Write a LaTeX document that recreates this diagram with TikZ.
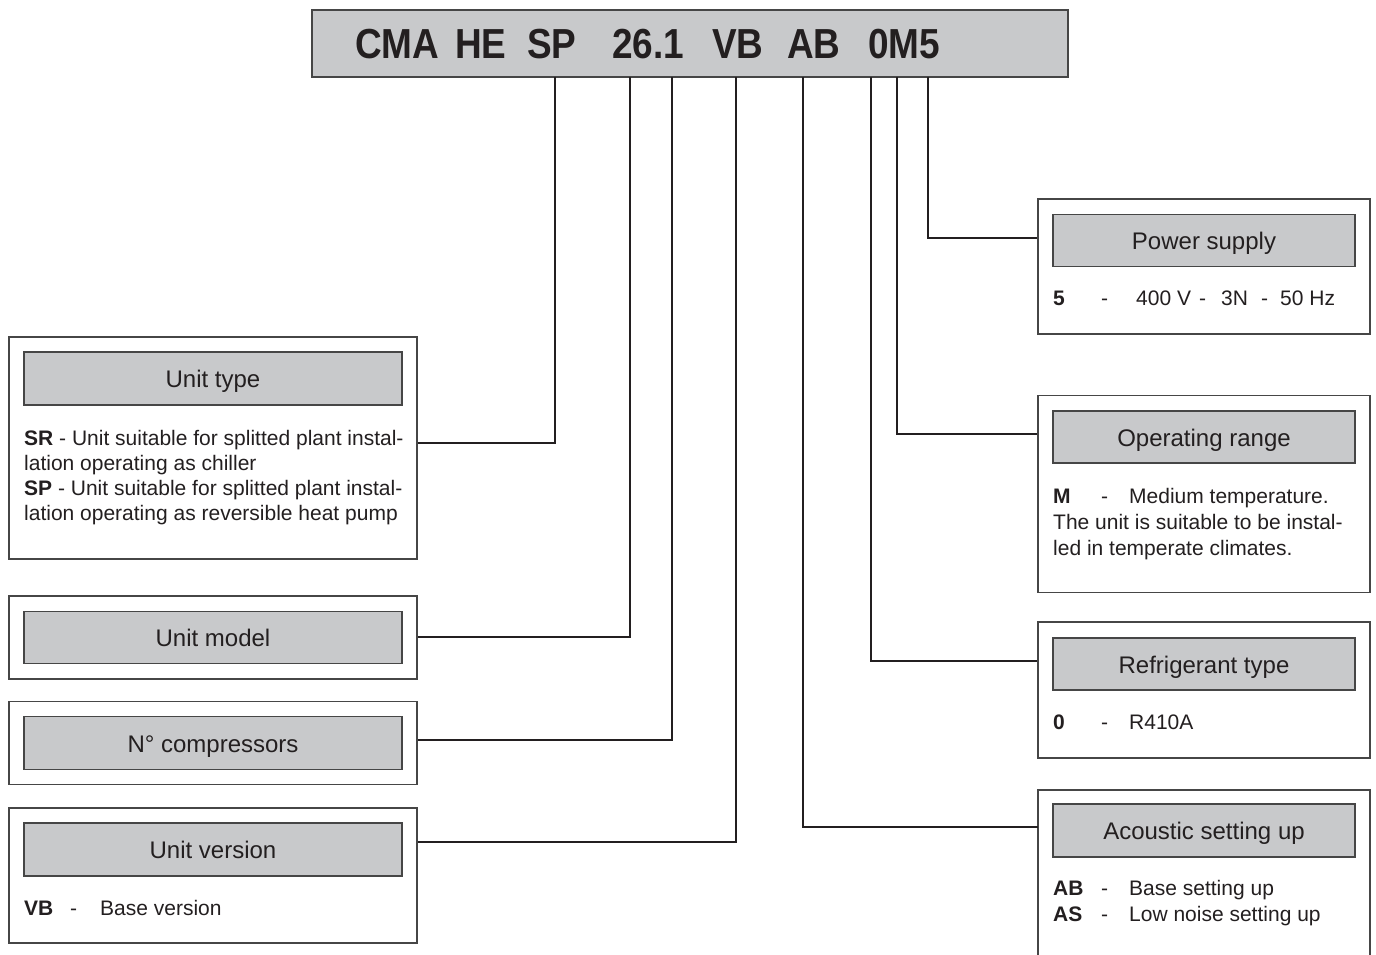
\documentclass[tikz,border=0pt]{standalone}
\usepackage{fontspec}
\setmainfont{Liberation Sans}
\definecolor{hdrgray}{RGB}{200,201,203}
\definecolor{edge}{RGB}{70,70,70}
\definecolor{ink}{RGB}{35,31,32}
\tikzset{
  outerbox/.style={draw=edge, line width=1.1pt, inner sep=0pt, minimum width=#1},
  hdrbox/.style={draw=edge, fill=hdrgray, line width=1.1pt, inner sep=0pt, text=ink,
    text height=18pt, text depth=0pt, font=\fontsize{24}{24}\selectfont},
  body/.style={anchor=base west, inner sep=0pt, text=ink, font=\fontsize{21}{26}\selectfont},
  ttl/.style={anchor=base west, inner sep=0pt, text=ink, font=\fontsize{42}{42}\selectfont\bfseries, xscale=0.88},
  conn/.style={draw=ink, line width=1.1pt}
}
\begin{document}
\begin{tikzpicture}[x=1pt,y=-1pt]
\useasboundingbox[fill=white] (0,0) rectangle (1376,955);
% title bar
\node[draw=edge, fill=hdrgray, line width=1.1pt, minimum width=756pt, minimum height=67pt, inner sep=0pt] (title) at (690,43.5) {};
\node[ttl] (tCMA) at (355,59) {CMA};
\node[ttl] (tHE) at (455,59) {HE};
\node[ttl] (tSPx) at (527,59) {SP};
\node[ttl] (t26) at (612,59) {26.1};
\node[ttl] (tVB) at (712,59) {VB};
\node[ttl] (tAB) at (787,59) {AB};
\node[ttl] (t0M5) at (868,59) {0M5};
% tap points on the title bar
\coordinate (pSP) at (555,77);
\coordinate (p26) at (630,77);
\coordinate (p1) at (672,77);
\coordinate (pVB) at (736,77);
\coordinate (pAB) at (803,77);
\coordinate (p0) at (871,77);
\coordinate (pM) at (897,77);
\coordinate (p5) at (928,77);

% ---------- left boxes ----------
\node[outerbox=408pt, minimum height=222pt] (typebox) at (213,448) {};
\node[hdrbox, minimum width=378pt, minimum height=53pt] (typehdr) at (213,378.5) {Unit type};
\node[body] (typel1) at (24,445) {\textbf{SR} - Unit suitable for splitted plant instal-};
\node[body] (typel2) at (24,470) {lation operating as chiller};
\node[body] (typel3) at (24,495) {\textbf{SP} - Unit suitable for splitted plant instal-};
\node[body] (typel4) at (24,520) {lation operating as reversible heat pump};

\node[outerbox=408pt, minimum height=83pt] (modelbox) at (213,637.5) {};
\node[hdrbox, minimum width=378pt, minimum height=52pt] (modelhdr) at (213,637.5) {Unit model};

\node[outerbox=408pt, minimum height=83pt] (compbox) at (213,743) {};
\node[hdrbox, minimum width=378pt, minimum height=53pt] (comphdr) at (213,743) {N° compressors};

\node[outerbox=408pt, minimum height=135pt] (verbox) at (213,875.5) {};
\node[hdrbox, minimum width=378pt, minimum height=53pt] (verhdr) at (213,849.5) {Unit version};
\node[body] (vercode) at (24,915) {\textbf{VB}};
\node[body] (verdash) at (70,915) {-};
\node[body] (vertxt) at (100,915) {Base version};

% ---------- right boxes ----------
\node[outerbox=332pt, minimum height=135pt] (powbox) at (1204,266.5) {};
\node[hdrbox, minimum width=302pt, minimum height=52pt] (powhdr) at (1204,240.5) {Power supply};
\node[body] (powcode) at (1053,305) {\textbf{5}};
\node[body] (powdash) at (1101,305) {-};
\node[body] (powa) at (1136,305) {400 V};
\node[body] (powb) at (1199,305) {-};
\node[body] (powc) at (1221,305) {3N};
\node[body] (powd) at (1261,305) {-};
\node[body] (powe) at (1280,305) {50 Hz};

\node[outerbox=332pt, minimum height=197pt] (opbox) at (1204,494) {};
\node[hdrbox, minimum width=302pt, minimum height=52pt] (ophdr) at (1204,437) {Operating range};
\node[body] (opcode) at (1053,503) {\textbf{M}};
\node[body] (opdash) at (1101,503) {-};
\node[body] (optxt1) at (1129,503) {Medium temperature.};
\node[body] (optxt2) at (1053,529) {The unit is suitable to be instal-};
\node[body] (optxt3) at (1053,555) {led in temperate climates.};

\node[outerbox=332pt, minimum height=136pt] (refbox) at (1204,690) {};
\node[hdrbox, minimum width=302pt, minimum height=52pt] (refhdr) at (1204,664) {Refrigerant type};
\node[body] (refcode) at (1053,729) {\textbf{0}};
\node[body] (refdash) at (1101,729) {-};
\node[body] (reftxt) at (1129,729) {R410A};

\draw[draw=edge, line width=1.1pt] (1038,960) -- (1038,790) -- (1370,790) -- (1370,960);
\coordinate (acL) at (1038,827);
\node[hdrbox, minimum width=302pt, minimum height=53pt] (achdr) at (1204,830.5) {Acoustic setting up};
\node[body] (accode1) at (1053,895) {\textbf{AB}};
\node[body] (acdash1) at (1101,895) {-};
\node[body] (actxt1) at (1129,895) {Base setting up};
\node[body] (accode2) at (1053,921) {\textbf{AS}};
\node[body] (acdash2) at (1101,921) {-};
\node[body] (actxt2) at (1129,921) {Low noise setting up};

% ---------- connectors ----------
\draw[conn] (pSP) |- (typebox.east |- 0,443);
\draw[conn] (p26) |- (modelbox.east |- 0,637);
\draw[conn] (p1) |- (compbox.east |- 0,740);
\draw[conn] (pVB) |- (verbox.east |- 0,842);
\draw[conn] (pAB) |- (acL);
\draw[conn] (p0) |- (refbox.west |- 0,661);
\draw[conn] (pM) |- (opbox.west |- 0,434);
\draw[conn] (p5) |- (powbox.west |- 0,238);
\end{tikzpicture}
\end{document}
